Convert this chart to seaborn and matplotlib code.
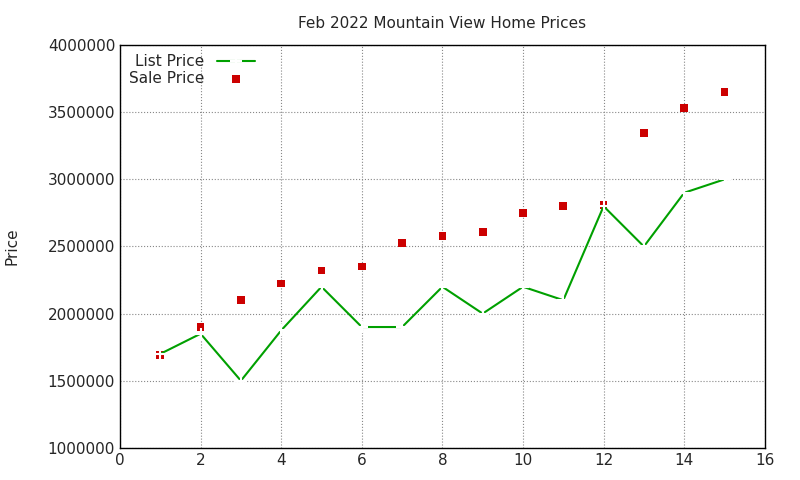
import matplotlib
matplotlib.use("Agg")
import matplotlib.pyplot as plt
import seaborn as sb
import pandas as pd

homes = [1, 2, 3, 4, 5, 6, 7, 8, 9, 10, 11, 12, 13, 14, 15]
list_price = [1700000, 1850000, 1500000, 1875000, 2200000, 1900000, 1900000, 2200000,
              2000000, 2200000, 2100000, 2800000, 2500000, 2900000, 3000000]
sale_price = [1690000, 1900000, 2100000, 2225000, 2320000, 2350000, 2525000, 2580000,
              2610000, 2750000, 2800000, 2810000, 3345000, 3530000, 3650000]

df = pd.DataFrame({"home": homes, "list": list_price, "sale": sale_price})

sb.set_style("white")
plt.rcParams['font.family'] = ['DejaVu Sans']

fig = plt.figure(figsize=(8, 4.8), dpi=100)
ax = fig.add_axes([0.15, 0.067, 0.806, 0.839])

sb.lineplot(data=df, x="home", y="list", ax=ax, color="#00a000", marker="+",
            markersize=8, markeredgewidth=1.5, linewidth=1.5, label="List Price")
sb.scatterplot(data=df, x="home", y="sale", ax=ax, color="#cc0000", marker="s",
               s=30, edgecolor="none", label="Sale Price")

ax.set_xlim(0, 16)
ax.set_ylim(1000000, 4000000)
ax.set_xticks(range(0, 17, 2))
ax.set_yticks(range(1000000, 4000001, 500000))
ax.ticklabel_format(style="plain", axis="y")
ax.grid(True, linestyle=":", color="#888888", linewidth=0.8)
for s in ax.spines.values():
    s.set_color("black")
    s.set_linewidth(1)
ax.tick_params(direction="in", labelsize=11, length=5)
ax.set_xlabel("")
ax.set_ylabel("Price", fontsize=11, labelpad=20)
ax.set_title("Feb 2022 Mountain View Home Prices", fontsize=11, pad=12)
ax.legend(loc="upper left", bbox_to_anchor=(0.0, 1.0), frameon=False, markerfirst=False,
          fontsize=11, handlelength=2.5, borderaxespad=0.2, labelspacing=0.1)

fig.savefig("out.png", dpi=100)
